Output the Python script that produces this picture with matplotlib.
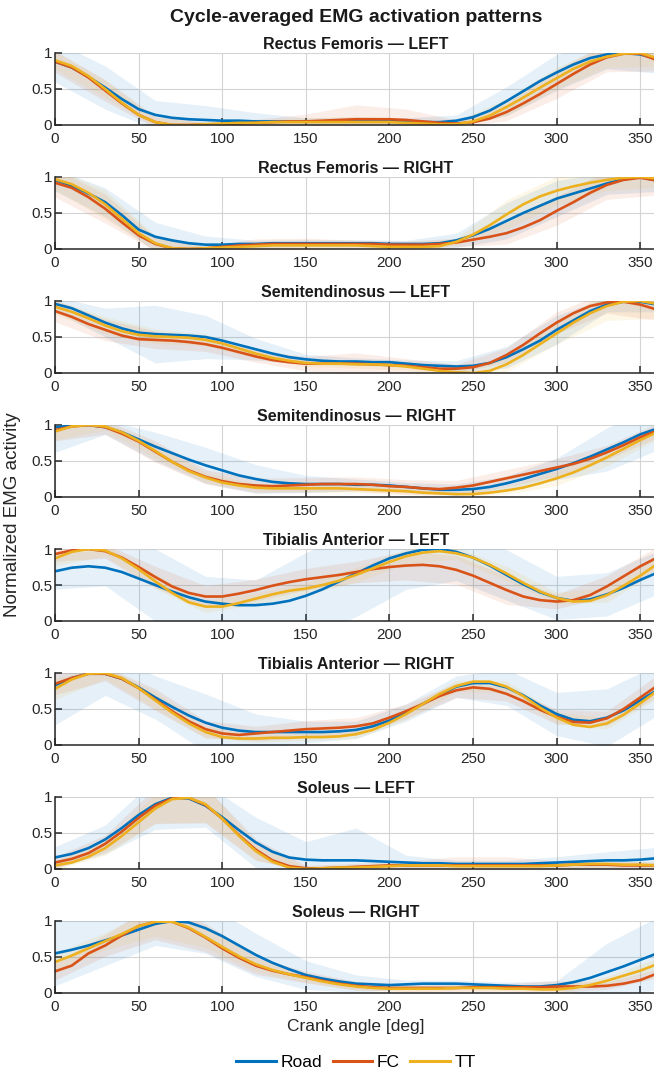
import numpy as np
import matplotlib
matplotlib.use("Agg")
import matplotlib.pyplot as plt
from matplotlib.lines import Line2D

plt.rcParams['font.family'] = ['Liberation Sans', 'DejaVu Sans']

# crank angle samples for the means (deg) and for the +-SD bands
ANGLES = np.arange(0, 361, 10)
BAND_ANGLES = np.arange(0, 361, 30)

TITLES = ["Rectus Femoris — LEFT", "Rectus Femoris — RIGHT",
          "Semitendinosus — LEFT", "Semitendinosus — RIGHT",
          "Tibialis Anterior — LEFT", "Tibialis Anterior — RIGHT",
          "Soleus — LEFT", "Soleus — RIGHT"]
CONDITIONS = ["Road", "FC", "TT"]
COLORS = ["#0072BD", "#D95319", "#EDB120"]

# mean curves, one list per muscle/side, values every 10 deg
road = [
    [0.88,0.80,0.67,0.52,0.36,0.22,0.14,0.10,0.08,0.07,0.06,0.06,0.05,0.05,0.05,0.05,0.05,0.05,0.06,0.06,0.06,0.05,0.04,0.04,0.06,0.11,0.20,0.33,0.47,0.61,0.73,0.84,0.93,0.98,1.00,0.98,0.92],
    [0.96,0.88,0.77,0.65,0.47,0.27,0.17,0.12,0.08,0.06,0.06,0.07,0.07,0.08,0.08,0.08,0.08,0.08,0.08,0.08,0.07,0.07,0.07,0.08,0.12,0.19,0.28,0.39,0.50,0.60,0.70,0.77,0.84,0.91,0.97,1.00,0.95],
    [0.96,0.90,0.80,0.70,0.62,0.56,0.54,0.53,0.52,0.50,0.45,0.39,0.33,0.27,0.22,0.19,0.17,0.16,0.16,0.15,0.15,0.13,0.11,0.10,0.09,0.10,0.14,0.22,0.33,0.45,0.60,0.73,0.86,0.95,0.99,0.99,0.95],
    [0.97,0.99,1.00,0.97,0.90,0.80,0.70,0.61,0.52,0.44,0.37,0.30,0.25,0.21,0.19,0.18,0.18,0.18,0.17,0.17,0.16,0.14,0.12,0.10,0.10,0.11,0.14,0.19,0.25,0.32,0.39,0.47,0.56,0.66,0.76,0.87,0.95],
    [0.69,0.74,0.76,0.74,0.68,0.59,0.50,0.41,0.33,0.27,0.24,0.22,0.22,0.24,0.28,0.35,0.44,0.55,0.66,0.77,0.87,0.94,0.99,1.00,0.96,0.88,0.77,0.64,0.51,0.40,0.32,0.28,0.30,0.37,0.46,0.57,0.67],
    [0.83,0.93,0.99,0.99,0.92,0.80,0.66,0.53,0.41,0.31,0.24,0.20,0.18,0.18,0.18,0.18,0.18,0.19,0.21,0.26,0.34,0.45,0.57,0.70,0.81,0.86,0.86,0.80,0.69,0.55,0.43,0.35,0.33,0.38,0.48,0.62,0.76],
    [0.16,0.21,0.29,0.41,0.57,0.75,0.90,0.99,0.98,0.88,0.72,0.54,0.37,0.24,0.16,0.13,0.12,0.12,0.12,0.11,0.10,0.09,0.08,0.08,0.07,0.07,0.07,0.07,0.07,0.08,0.09,0.10,0.11,0.12,0.12,0.13,0.15],
    [0.55,0.60,0.66,0.73,0.80,0.88,0.96,1.00,0.98,0.90,0.79,0.66,0.53,0.42,0.33,0.25,0.20,0.16,0.13,0.12,0.11,0.12,0.13,0.13,0.13,0.12,0.11,0.10,0.09,0.09,0.11,0.15,0.21,0.29,0.37,0.46,0.55],
]
fc = [
    [0.88,0.80,0.66,0.48,0.30,0.14,0.04,0.00,0.00,0.01,0.01,0.02,0.03,0.04,0.05,0.05,0.06,0.07,0.08,0.08,0.08,0.07,0.05,0.03,0.02,0.04,0.09,0.18,0.30,0.43,0.57,0.71,0.84,0.94,0.99,0.99,0.90],
    [0.92,0.85,0.72,0.56,0.37,0.19,0.07,0.01,0.00,0.01,0.03,0.05,0.06,0.07,0.07,0.07,0.07,0.07,0.07,0.07,0.06,0.06,0.06,0.07,0.09,0.13,0.17,0.22,0.30,0.40,0.53,0.65,0.78,0.89,0.96,0.99,0.95],
    [0.86,0.78,0.68,0.60,0.52,0.47,0.46,0.45,0.43,0.40,0.35,0.29,0.23,0.18,0.15,0.13,0.13,0.13,0.13,0.12,0.11,0.10,0.08,0.06,0.06,0.08,0.14,0.25,0.39,0.55,0.70,0.83,0.93,0.98,0.99,0.95,0.88],
    [0.93,0.98,1.00,0.97,0.88,0.77,0.63,0.49,0.37,0.28,0.22,0.18,0.16,0.15,0.16,0.17,0.18,0.18,0.18,0.17,0.15,0.14,0.12,0.11,0.13,0.16,0.21,0.26,0.31,0.36,0.41,0.46,0.53,0.62,0.72,0.83,0.92],
    [0.93,0.98,1.00,0.97,0.88,0.75,0.61,0.48,0.39,0.34,0.34,0.38,0.43,0.49,0.54,0.58,0.61,0.64,0.68,0.72,0.75,0.77,0.78,0.76,0.71,0.63,0.53,0.43,0.34,0.29,0.27,0.29,0.36,0.48,0.62,0.76,0.88],
    [0.85,0.93,0.99,0.99,0.92,0.79,0.63,0.47,0.33,0.22,0.16,0.14,0.16,0.18,0.20,0.22,0.23,0.24,0.26,0.30,0.38,0.47,0.57,0.68,0.76,0.80,0.78,0.71,0.61,0.49,0.39,0.32,0.31,0.37,0.50,0.66,0.82],
    [0.09,0.14,0.22,0.35,0.52,0.71,0.88,0.98,0.99,0.89,0.70,0.47,0.27,0.12,0.04,0.01,0.01,0.02,0.03,0.04,0.05,0.05,0.05,0.05,0.05,0.05,0.05,0.05,0.05,0.05,0.05,0.06,0.06,0.06,0.05,0.05,0.05],
    [0.30,0.38,0.55,0.66,0.80,0.93,0.99,0.99,0.90,0.77,0.62,0.49,0.38,0.31,0.26,0.22,0.17,0.13,0.10,0.08,0.07,0.07,0.07,0.07,0.07,0.08,0.08,0.08,0.08,0.08,0.09,0.09,0.09,0.10,0.13,0.18,0.27],
]
tt = [
    [0.90,0.82,0.68,0.50,0.31,0.14,0.04,0.00,0.00,0.01,0.02,0.03,0.03,0.04,0.04,0.04,0.04,0.04,0.04,0.04,0.04,0.03,0.02,0.01,0.01,0.05,0.13,0.25,0.38,0.52,0.65,0.78,0.88,0.95,0.99,1.00,0.93],
    [0.97,0.90,0.78,0.62,0.42,0.22,0.08,0.01,0.00,0.01,0.02,0.03,0.04,0.05,0.05,0.05,0.05,0.05,0.05,0.04,0.03,0.03,0.03,0.04,0.10,0.20,0.33,0.48,0.62,0.73,0.81,0.87,0.92,0.96,0.99,1.00,0.98],
    [0.92,0.85,0.76,0.66,0.58,0.53,0.51,0.50,0.49,0.46,0.41,0.34,0.27,0.21,0.17,0.14,0.13,0.13,0.12,0.12,0.11,0.09,0.06,0.03,0.01,0.00,0.03,0.12,0.25,0.40,0.55,0.70,0.83,0.93,0.99,1.00,0.96],
    [0.91,0.98,1.00,0.98,0.90,0.78,0.64,0.49,0.36,0.27,0.20,0.16,0.13,0.12,0.12,0.12,0.12,0.12,0.11,0.10,0.09,0.08,0.06,0.05,0.04,0.04,0.06,0.09,0.13,0.19,0.26,0.34,0.44,0.55,0.67,0.79,0.90],
    [0.87,0.96,1.00,0.98,0.87,0.72,0.55,0.39,0.26,0.20,0.20,0.25,0.31,0.37,0.42,0.45,0.50,0.56,0.64,0.73,0.82,0.90,0.95,0.97,0.94,0.88,0.78,0.66,0.53,0.41,0.32,0.27,0.28,0.36,0.49,0.63,0.79],
    [0.78,0.91,0.99,1.00,0.93,0.79,0.62,0.45,0.30,0.18,0.11,0.09,0.09,0.10,0.10,0.11,0.11,0.12,0.15,0.21,0.31,0.43,0.57,0.71,0.82,0.88,0.88,0.81,0.68,0.52,0.38,0.28,0.25,0.30,0.42,0.58,0.75],
    [0.05,0.09,0.17,0.29,0.46,0.65,0.84,0.97,0.99,0.90,0.70,0.46,0.25,0.10,0.02,0.00,0.01,0.02,0.02,0.03,0.04,0.05,0.05,0.05,0.04,0.04,0.04,0.04,0.04,0.04,0.05,0.06,0.07,0.07,0.06,0.06,0.05],
    [0.43,0.52,0.62,0.72,0.82,0.93,0.99,0.99,0.91,0.78,0.64,0.51,0.40,0.32,0.26,0.21,0.16,0.12,0.09,0.07,0.06,0.06,0.06,0.06,0.07,0.07,0.07,0.06,0.06,0.05,0.05,0.07,0.11,0.17,0.24,0.31,0.40],
]

# standard deviations every 30 deg
road_sd = [
    [0.28,0.30,0.20,0.20,0.12,0.05,0.05,0.05,0.08,0.20,0.25,0.20,0.20],
    [0.15,0.20,0.20,0.12,0.05,0.05,0.05,0.05,0.10,0.25,0.25,0.15,0.15],
    [0.10,0.20,0.40,0.30,0.15,0.07,0.05,0.05,0.08,0.15,0.20,0.10,0.10],
    [0.35,0.10,0.20,0.25,0.20,0.12,0.08,0.06,0.08,0.10,0.15,0.30,0.30],
    [0.25,0.25,0.50,0.35,0.35,0.60,0.60,0.50,0.40,0.35,0.30,0.30,0.30],
    [0.55,0.30,0.30,0.40,0.25,0.15,0.12,0.12,0.15,0.25,0.30,0.40,0.35],
    [0.15,0.20,0.35,0.30,0.35,0.25,0.45,0.10,0.05,0.05,0.08,0.12,0.15],
    [0.45,0.35,0.30,0.35,0.30,0.20,0.12,0.06,0.05,0.05,0.06,0.40,0.50],
]
fc_sd = [
    [0.15,0.15,0.08,0.03,0.05,0.10,0.20,0.15,0.05,0.12,0.20,0.20,0.15],
    [0.20,0.20,0.10,0.03,0.08,0.08,0.05,0.05,0.06,0.15,0.20,0.20,0.20],
    [0.15,0.15,0.12,0.10,0.08,0.10,0.15,0.10,0.06,0.10,0.15,0.15,0.15],
    [0.15,0.10,0.15,0.10,0.10,0.10,0.10,0.10,0.10,0.12,0.12,0.10,0.10],
    [0.10,0.10,0.15,0.15,0.15,0.15,0.15,0.20,0.20,0.20,0.10,0.15,0.15],
    [0.15,0.10,0.15,0.12,0.10,0.12,0.12,0.10,0.10,0.10,0.10,0.10,0.15],
    [0.08,0.12,0.25,0.25,0.15,0.04,0.05,0.06,0.12,0.12,0.06,0.05,0.05],
    [0.12,0.15,0.25,0.20,0.12,0.08,0.06,0.05,0.05,0.05,0.08,0.05,0.06],
]
tt_sd = [
    [0.12,0.12,0.06,0.03,0.04,0.06,0.08,0.05,0.04,0.12,0.15,0.15,0.12],
    [0.15,0.20,0.10,0.03,0.04,0.04,0.04,0.04,0.05,0.20,0.20,0.15,0.12],
    [0.10,0.12,0.10,0.08,0.06,0.05,0.05,0.05,0.03,0.10,0.15,0.20,0.20],
    [0.12,0.05,0.10,0.07,0.05,0.05,0.05,0.05,0.03,0.05,0.10,0.12,0.10],
    [0.10,0.08,0.10,0.08,0.08,0.08,0.10,0.10,0.08,0.10,0.08,0.10,0.10],
    [0.15,0.08,0.12,0.08,0.05,0.05,0.06,0.08,0.08,0.08,0.08,0.08,0.10],
    [0.06,0.10,0.20,0.25,0.12,0.03,0.03,0.04,0.05,0.04,0.05,0.05,0.04],
    [0.12,0.12,0.20,0.15,0.10,0.06,0.05,0.04,0.04,0.04,0.04,0.06,0.08],
]

W, H = 654, 1073
fig = plt.figure(figsize=(W / 100, H / 100), dpi=100)

ax_left = 55 / W
ax_w = (657 - 55) / W
ax_h = 72 / H

means = [road, fc, tt]
sds = [road_sd, fc_sd, tt_sd]

for i, title in enumerate(TITLES):
    bottom_px = 125 + 124 * i
    ax = fig.add_axes([ax_left, 1 - bottom_px / H, ax_w, ax_h])
    for k in range(3):
        m = np.array(means[k][i])
        s = np.array(sds[k][i])
        mb = m[::3]
        ax.fill_between(BAND_ANGLES, mb - s, mb + s, color=COLORS[k],
                        alpha=0.1, linewidth=0)
    for k in range(3):
        ax.plot(ANGLES, means[k][i], color=COLORS[k], lw=1.9)
    ax.set_xlim(0, 360)
    ax.set_ylim(0, 1)
    ax.set_xticks(np.arange(0, 351, 50))
    ax.set_yticks([0, 0.5, 1])
    ax.set_yticklabels(["0", "0.5", "1"])
    ax.grid(True, color="#d4d4d4", lw=0.8)
    ax.set_axisbelow(True)
    for sp in ["top", "right"]:
        ax.spines[sp].set_visible(False)
    for sp in ["left", "bottom"]:
        ax.spines[sp].set_color("#262626")
        ax.spines[sp].set_linewidth(1.1)
    ax.tick_params(direction="in", length=5, width=1.1, labelsize=11,
                   colors="#262626")
    ax.tick_params(axis="x", pad=5)
    ax.tick_params(axis="y", pad=2)
    ax.set_title(title, fontsize=11.5, fontweight="bold", pad=3, color="#1a1a1a")

fig.text(356 / W, 1 - 17 / H, "Cycle-averaged EMG activation patterns",
         ha="center", va="center", fontsize=14, fontweight="bold", color="#1a1a1a")
fig.text(13 / W, 1 - 515 / H, "Normalized EMG activity", rotation=90,
         ha="center", va="center", fontsize=13.5, color="#262626")
fig.text(356 / W, 1 - 1026 / H, "Crank angle [deg]",
         ha="center", va="center", fontsize=12.5, color="#262626")

handles = [Line2D([], [], color=c, lw=2.2) for c in COLORS]
fig.legend(handles, CONDITIONS, loc="center", bbox_to_anchor=(356 / W, 1 - 1062 / H),
           ncol=3, frameon=False, fontsize=12.5, handlelength=2.3,
           columnspacing=0.6, handletextpad=0.25)

fig.savefig("out.png", dpi=100)
